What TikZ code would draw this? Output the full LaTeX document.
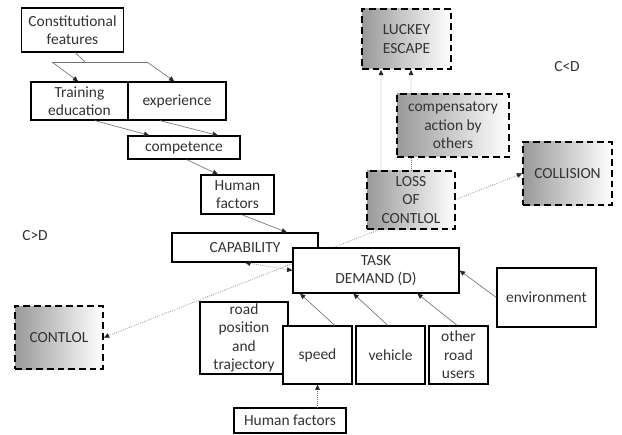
\documentclass[tikz,border=0pt]{standalone}
\usepackage{fontspec}
\setmainfont{Carlito}
\usetikzlibrary{arrows.meta,backgrounds}

\tikzset{
  box/.style={draw, line width=0.9pt, fill=white, align=center, inner sep=1pt, text=black!80},
  dbox/.style={draw, line width=1.2pt, dash pattern=on 5pt off 3pt, align=center, inner sep=1pt,
    text=black!80, left color=black!40, right color=white},
  conn/.style={draw=black!55, line width=0.5pt, ->},
  dconn/.style={conn, densely dotted},
}

\begin{document}
\begin{tikzpicture}[x=0.75pt, y=-0.75pt, font=\fontsize{11.6}{13.8}\selectfont,
    >={Triangle[length=4pt,width=3.5pt,color=black!85]}]
    \useasboundingbox (0,0) rectangle (622,435);

    % capability side
    \node[box, minimum width=77pt, minimum height=33pt] (cons) at (72.5,30) {Constitutional\\features};
    \node[box, minimum width=72.75pt, minimum height=28.5pt] (train) at (79.5,101) {Training\\education};
    \node[box, minimum width=73.5pt, minimum height=28.5pt] (exper) at (177,101) {experience};
    \node[box, minimum width=84pt, minimum height=17.25pt] (compet) at (184,147.5) {competence};
    \node[box, minimum width=54.75pt, minimum height=29.25pt] (hum1) at (237.5,194.5) {Human\\factors};
    \node[box, minimum width=109.5pt, minimum height=21.75pt] (cap) at (245,247.5) {CAPABILITY};

    % demand side
    \node[box, minimum width=66pt, minimum height=54pt] (road) at (244,338) {road\\position\\and\\trajectory};
    \node[box, minimum width=51.75pt, minimum height=43.5pt] (speed) at (317.5,355) {speed};
    \node[box, minimum width=51.75pt, minimum height=43.5pt] (vehic) at (390.5,355) {vehicle};
    \node[box, minimum width=44.25pt, minimum height=43.5pt] (other) at (458.5,355) {other\\road\\users};
    \node[box, minimum width=84pt, minimum height=18.75pt] (hum2) at (290,420.5) {Human factors};
    \node[box, minimum width=74.25pt, minimum height=44.25pt] (env) at (546.5,297.5) {environment};
    \node[box, minimum width=124.5pt, minimum height=33.75pt] (task) at (376,270.5) {TASK\\DEMAND (D)};

    % outcomes
    \node[dbox, minimum width=66pt, minimum height=47.25pt] (contl) at (59,337.5) {CONTLOL};
    \node[dbox, minimum width=66.75pt, minimum height=45pt] (lucky) at (406.5,39) {LUCKEY\\ESCAPE};
    \node[dbox, minimum width=84pt, minimum height=47.25pt] (comp) at (453,125.5) {compensatory\\action by\\others};
    \node[dbox, minimum width=66pt, minimum height=43.5pt] (loss) at (411,200) {LOSS\\OF\\CONTLOL};
    \node[dbox, minimum width=66.75pt, minimum height=47.25pt] (coll) at (567.5,173.5) {COLLISION};

    \node[text=black!80] (cltd) at (567,67) {C<D};
    \node[text=black!80] (cgtd) at (35,236) {C>D};

    % connectors
    \coordinate (split) at (85,62);
    \coordinate (splitl) at (52,62);
    \coordinate (splitr) at (147,62);
    \draw[conn, -] ([xshift=2pt]cons.south) -- (split);
    \draw[conn, -] (splitl) -- (splitr);
    \draw[conn] (splitl) -- ([xshift=-1pt]train.north);
    \draw[conn] (splitr) -- ([xshift=-2pt]exper.north);
    \draw[conn] ([xshift=11.6pt]train.south) -- ([xshift=-26pt]compet.north);
    \draw[conn] ([xshift=-12.75pt]exper.south) -- ([xshift=25.5pt]compet.north);
    \draw[conn] ([xshift=2pt]compet.south) -- ([xshift=-14.6pt]hum1.north);
    \draw[conn] ([xshift=3pt]hum1.south) -- ([xshift=31.5pt]cap.north);
    \draw[dconn, <->] (cap.south) -- (task.west);

    \draw[dconn] (hum2.north -| speed.south) -- (speed.south);
    \draw[conn] ([xshift=13pt]speed.north) -- ([xshift=-57pt]task.south);
    \draw[conn] ([xshift=-2pt]vehic.north) -- ([xshift=-17pt]task.south);
    \draw[conn] ([xshift=-1pt]other.north) -- ([xshift=31pt]task.south);
    \draw[conn] (env.west) -- (task.east);

    \draw[dconn] ([xshift=-22.5pt]loss.north) -- ([xshift=-19.1pt]lucky.south);
    \draw[dconn] ([xshift=-31.5pt]comp.north) -- ([xshift=3.4pt]lucky.south);
    \draw[dconn, -] (loss.north) -- ([xshift=-31.5pt]comp.south);
    \begin{scope}[on background layer]
        \draw[dconn, <->] (contl.east) -- (coll.west);
    \end{scope}
\end{tikzpicture}
\end{document}
